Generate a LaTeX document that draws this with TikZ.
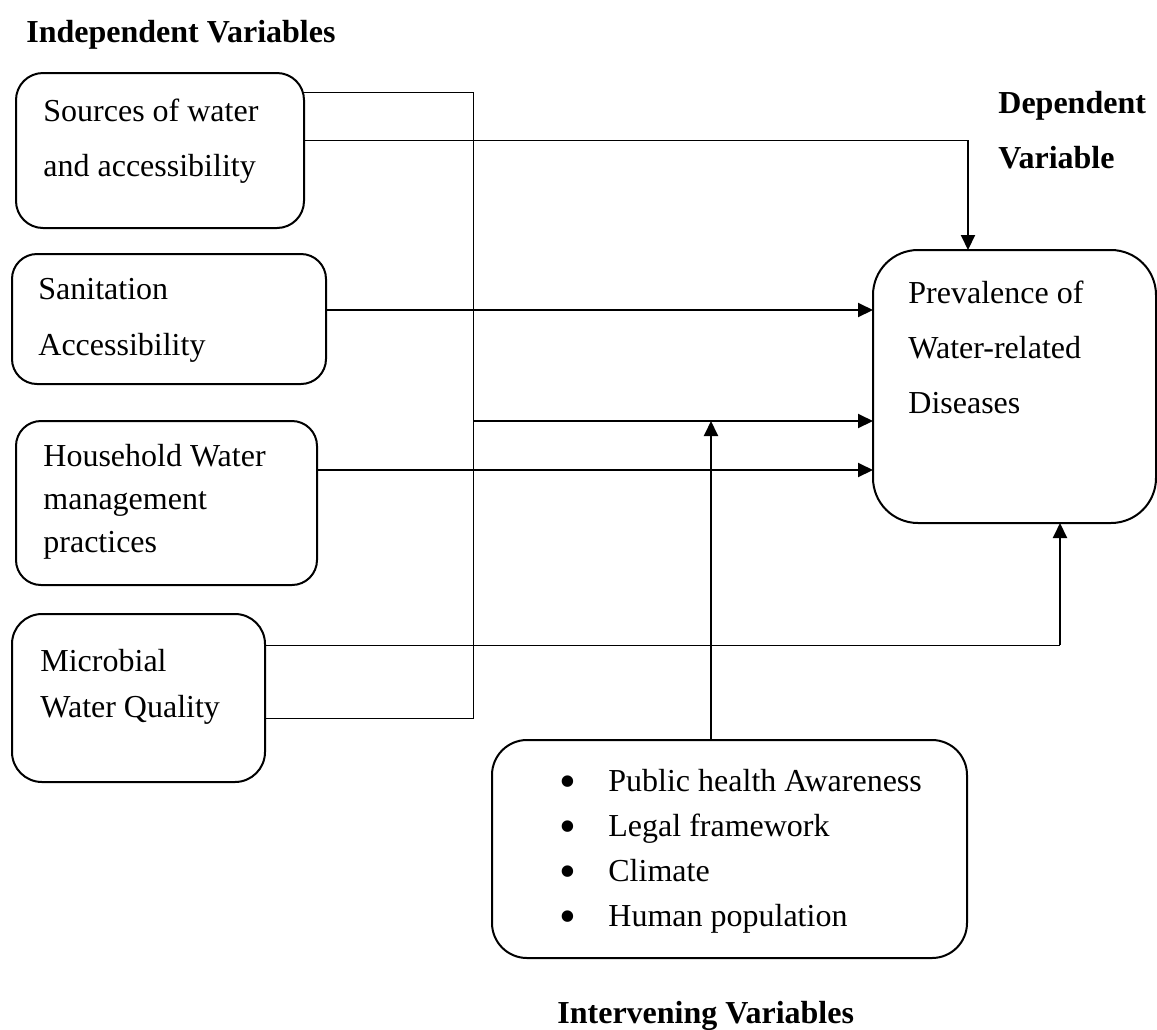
\documentclass[tikz,border=0pt]{standalone}
\usepackage{fontspec}
\setmainfont{Liberation Serif}
\usetikzlibrary{arrows.meta}
\newcommand{\itembul}{\llap{\raisebox{-3pt}{\scalebox{1.5}{\textbullet}}\hspace{16pt}}}
\tikzset{
  varbox/.style={draw, line width=1pt, inner sep=0pt, outer sep=0pt},
  boxtext/.style={anchor=base west, align=left, inner sep=0pt, font=\fontsize{16}{#1}\selectfont},
  heading/.style={anchor=base west, align=left, inner sep=0pt, font=\fontsize{16}{27.5}\selectfont\bfseries},
  thinline/.style={line width=0.5pt},
  flow/.style={line width=1pt, -{Triangle[length=7.5pt,width=7pt]}}
}
\begin{document}
\begin{tikzpicture}[x=0.5pt, y=-0.5pt]
  \useasboundingbox (0,0) rectangle (1157,1029);
  \node[varbox, rounded corners=13.5pt, minimum width=144pt, minimum height=77.5pt] (src) at (160,150.5) {};
  \node[varbox, rounded corners=12.5pt, minimum width=157pt, minimum height=65pt] (san) at (169,319) {};
  \node[varbox, rounded corners=12.5pt, minimum width=150.5pt, minimum height=82pt] (hh) at (166.5,503) {};
  \node[varbox, rounded corners=15pt, minimum width=126.5pt, minimum height=84pt] (mic) at (138.5,698) {};
  \node[varbox, rounded corners=22.5pt, minimum width=141.5pt, minimum height=136.5pt] (prev) at (1014.5,386.5) {};
  \node[varbox, rounded corners=17.5pt, minimum width=237.5pt, minimum height=109pt] (intv) at (729.5,849) {};

  \node[boxtext=27.5pt] (srctext) at (43,176) {Sources of water\\and accessibility};
  \node[boxtext=28pt] (santext) at (38,355) {Sanitation\\Accessibility};
  \node[boxtext=21.5pt] (hhtext) at (43,552) {Household Water\\management\\practices};
  \node[boxtext=23pt] (mictext) at (40,717) {Microbial\\Water Quality};
  \node[boxtext=27.5pt] (prevtext) at (908,413) {Prevalence of\\Water-related\\Diseases};
  \node[boxtext=22.5pt] (intvtext) at (608,926) {\itembul Public health Awareness\\\itembul Legal framework\\\itembul Climate\\\itembul Human population};

  \node[heading] (indep) at (26,42) {Independent Variables};
  \node[heading] (dep) at (998,168) {Dependent\\Variable};
  \node[heading] (interv) at (557,1023) {Intervening Variables};

  \coordinate (topj) at (473,92);
  \coordinate (botj) at (473,718);
  \coordinate (midj) at (473,421);
  \coordinate (srcj) at (968,140);
  \coordinate (micj) at (1060,645);
  \coordinate (intvj) at (711,421);

  \draw[thinline] (src.east |- topj) -- (topj) -- (botj) -- (botj -| mic.east);
  \draw[thinline] (src.east |- srcj) -- (srcj);
  \draw[flow] (srcj) -- (srcj |- prev.north);
  \draw[flow] (san.east |- 0,310) -- (prev.west |- 0,310);
  \draw[flow] (midj) -- (prev.west |- midj);
  \draw[flow] (hh.east |- 0,470) -- (prev.west |- 0,470);
  \draw[thinline] (mic.east |- micj) -- (micj);
  \draw[flow] (micj) -- (prev.south -| micj);
  \draw[flow] (intv.north -| intvj) -- (intvj);
\end{tikzpicture}
\end{document}
